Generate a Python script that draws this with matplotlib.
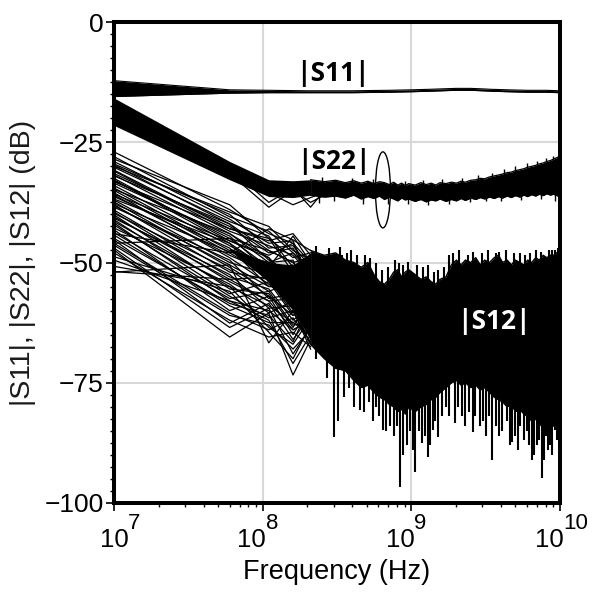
import numpy as np
import matplotlib
matplotlib.use("Agg")
import matplotlib.pyplot as plt
from matplotlib.patches import Ellipse
from matplotlib.ticker import MultipleLocator, LogLocator, NullFormatter, FixedLocator
import matplotlib.transforms as mtransforms

# ---------------- data ----------------
# |S11| band (GHz, dB)
s11_freq_ghz = [0.01, 0.06, 0.11, 0.2, 0.4, 0.7, 1.0, 1.3, 1.6, 2.0, 2.5, 3.0, 3.5, 4.5, 6.0, 8.0, 10.0]
s11_upper = [-12.2, -14.1, -14.2, -14.3, -14.3, -14.2, -14.1, -14.0, -13.9, -13.8, -13.8, -13.9, -14.0, -14.1, -14.2, -14.2, -14.3]
s11_lower = [-15.5, -14.8, -14.7, -14.7, -14.7, -14.6, -14.5, -14.4, -14.3, -14.2, -14.2, -14.3, -14.4, -14.5, -14.6, -14.6, -14.7]

# sweep points at low frequency (GHz)
low_freq_ghz = [0.01, 0.06, 0.11, 0.16, 0.21]

# dense part of the sweep (GHz)
band_freq_ghz = [0.21, 0.26, 0.31, 0.36, 0.41, 0.46, 0.51, 0.56, 0.61, 0.66, 0.71, 0.76, 0.81, 0.86, 0.91, 0.96,
                 1.06, 1.16, 1.26, 1.36, 1.46, 1.56, 1.71, 1.86, 2.01, 2.16, 2.31, 2.51, 2.71, 2.91, 3.11, 3.36,
                 3.61, 3.86, 4.11, 4.41, 4.71, 5.01, 5.36, 5.71, 6.06, 6.46, 6.86, 7.26, 7.71, 8.16, 8.61, 9.06,
                 9.51, 10.0]

# |S22| band
s22_low_upper = [-15.8, -29.0, -32.8, -33.0, -32.8]
s22_low_lower = [-21.5, -32.8, -36.3, -36.5, -36.0]
s22_upper = [-32.8, -33.2, -32.9, -33.4, -33.0, -33.5, -33.1, -33.6, -33.2, -33.4, -33.8, -33.3, -33.9, -33.5, -34.0, -33.6,
             -33.9, -33.4, -33.8, -33.5, -33.9, -33.4, -33.6, -33.3, -33.5, -33.1, -33.3, -32.9, -32.8, -32.5, -32.6, -32.2,
             -32.0, -31.8, -31.6, -31.3, -31.2, -30.9, -30.7, -30.5, -30.2, -30.0, -29.8, -29.5, -29.3, -29.0, -28.8, -28.5,
             -28.2, -27.9]
s22_lower = [-36.0, -36.4, -36.2, -36.6, -36.0, -36.8, -36.3, -36.7, -36.2, -36.9, -36.4, -36.8, -37.2, -36.6, -37.0, -36.8,
             -37.3, -36.9, -37.4, -37.0, -37.2, -36.8, -37.3, -36.9, -37.2, -36.7, -37.1, -36.6, -36.9, -36.5, -36.8, -36.4,
             -36.7, -36.3, -36.6, -36.2, -36.5, -36.1, -36.4, -36.0, -36.3, -35.9, -36.2, -35.8, -36.1, -35.7, -36.0, -35.8,
             -36.1, -36.3]
s22_spike_up_ghz = [0.25, 0.4, 0.55, 0.9, 1.2, 1.6, 2.2, 2.8, 3.5, 4.2, 5.0, 6.0, 7.0, 8.0, 9.0]
s22_spike_up_db = [-32.2, -32.5, -32.7, -33.0, -32.8, -32.7, -32.4, -31.8, -31.3, -30.5, -30.0, -29.4, -28.8, -28.3, -27.8]
s22_spike_dn_ghz = [0.24, 0.3, 0.47, 0.7, 0.95, 1.3, 1.8, 2.5, 3.2, 4.0, 5.5, 7.5, 9.3]
s22_spike_dn_db = [-37.6, -37.3, -37.8, -37.9, -37.8, -38.0, -37.8, -37.5, -37.3, -37.2, -37.0, -36.9, -37.2]
# a few stray |S22| traces
s22_stray_freq_ghz = [0.01, 0.06, 0.11, 0.16, 0.21, 0.26, 0.31]
s22_strays = [
    [-16.5, -30.5, -37.5, -34.5, -38.5, -35.0, -35.5],
    [-17.5, -31.5, -38.5, -35.0, -37.5, -36.0, -34.5],
    [-18.5, -32.0, -35.5, -38.0, -36.5, -35.5, -35.0],
]

# |S12| individual traces at low_freq_ghz
s12_traces = [
    [-27.0, -39.0, -44.0, -46.0, -50.0],
    [-28.0, -40.5, -43.5, -48.0, -52.0],
    [-29.0, -41.0, -46.0, -45.5, -54.0],
    [-29.7, -42.0, -47.5, -50.0, -49.0],
    [-30.8, -43.0, -45.0, -52.0, -56.0],
    [-31.5, -42.5, -48.0, -47.0, -53.0],
    [-31.8, -44.0, -50.0, -49.5, -58.0],
    [-32.5, -45.5, -49.0, -54.0, -51.0],
    [-32.8, -46.0, -51.5, -50.5, -60.0],
    [-33.5, -44.5, -52.0, -56.0, -55.0],
    [-34.5, -47.5, -50.5, -53.0, -62.0],
    [-35.0, -48.0, -53.0, -51.0, -57.0],
    [-35.5, -49.0, -54.5, -58.0, -53.0],
    [-36.3, -47.0, -55.0, -55.5, -64.0],
    [-37.0, -50.0, -52.5, -59.0, -58.0],
    [-37.4, -51.0, -56.0, -54.0, -61.0],
    [-38.0, -52.0, -53.5, -60.5, -55.0],
    [-38.5, -49.5, -57.5, -56.5, -66.0],
    [-39.1, -53.0, -55.5, -62.0, -59.0],
    [-39.5, -54.0, -58.0, -57.5, -63.0],
    [-40.1, -55.5, -56.5, -63.5, -57.0],
    [-40.8, -52.5, -59.5, -59.0, -67.0],
    [-41.1, -56.5, -54.0, -61.0, -60.0],
    [-41.8, -58.0, -60.0, -64.0, -62.0],
    [-42.2, -57.0, -61.5, -60.0, -68.0],
    [-43.2, -60.0, -57.0, -65.0, -59.0],
    [-44.3, -59.0, -62.5, -62.5, -65.0],
    [-45.3, -62.6, -58.5, -66.0, -61.0],
    [-46.4, -61.0, -63.0, -68.0, -64.0],
    [-47.4, -65.5, -60.5, -73.4, -66.0],
    [-48.8, -56.0, -64.5, -70.0, -63.0],
    [-52.0, -50.5, -66.7, -60.0, -67.0],
    [-51.9, -53.5, -58.0, -64.0, -62.0],
    [-44.0, -48.0, -43.0, -45.3, -47.5],
    [-46.0, -45.0, -51.0, -44.5, -50.0],
    [-28.5, -38.0, -45.0, -49.0, -48.0],
    [-29.5, -40.0, -47.0, -46.5, -51.0],
    [-30.2, -41.5, -44.5, -51.0, -55.0],
    [-31.0, -43.5, -46.5, -48.5, -52.5],
    [-32.0, -42.0, -49.5, -52.5, -57.5],
    [-33.0, -45.0, -47.5, -50.0, -54.5],
    [-34.0, -46.5, -51.0, -55.0, -59.5],
    [-34.8, -44.0, -49.0, -57.0, -56.0],
    [-36.0, -48.5, -52.0, -52.0, -61.5],
    [-36.8, -46.0, -54.0, -58.5, -55.5],
    [-38.2, -50.5, -55.0, -53.5, -63.5],
    [-39.8, -51.5, -57.0, -61.0, -58.5],
    [-40.5, -53.5, -53.0, -56.0, -65.5],
    [-41.5, -55.0, -59.0, -62.5, -60.5],
    [-42.8, -54.5, -60.5, -58.0, -64.5],
    [-43.8, -57.5, -56.0, -63.0, -62.5],
    [-45.0, -58.5, -61.0, -66.5, -58.5],
    [-46.0, -60.5, -64.0, -61.5, -66.5],
    [-47.0, -63.5, -59.5, -69.0, -63.5],
    [-48.0, -62.0, -65.5, -64.5, -67.5],
    [-49.5, -58.0, -62.0, -71.0, -65.0],
    [-50.8, -55.0, -63.5, -67.0, -61.5],
    [-30.0, -39.5, -42.5, -47.5, -49.5],
    [-33.2, -43.0, -45.5, -44.0, -48.5],
    [-37.8, -47.8, -50.0, -48.0, -51.5],
    [-35.8, -45.5, -48.5, -46.0, -53.5],
]
# densest core of the |S12| traces (tapering into the band)
s12_core_freq_ghz = [0.06, 0.11, 0.16, 0.21]
s12_core_upper = [-47.0, -50.0, -50.5, -48.0]
s12_core_lower = [-47.5, -54.0, -60.0, -66.0]

# |S12| dense band envelope at band_freq_ghz
s12_upper = [-47.5, -48.5, -48.0, -49.5, -50.0, -51.0, -50.0, -52.5, -54.0, -54.5, -53.5, -52.0, -51.5, -53.0, -52.0, -51.5,
             -52.5, -53.5, -53.0, -54.0, -54.5, -53.5, -53.0, -50.5, -49.5, -50.5, -49.5, -50.0, -49.0, -50.5, -49.5, -50.0,
             -49.0, -48.5, -50.0, -49.5, -50.5, -49.5, -50.0, -50.5, -49.5, -50.0, -49.0, -49.5, -48.5, -49.0, -48.5, -48.5,
             -48.0, -47.5]
s12_lower = [-67.0, -70.0, -72.0, -72.5, -74.5, -76.0, -75.5, -77.0, -78.0, -78.5, -79.5, -80.0, -81.0, -80.5, -81.5, -80.0,
             -81.0, -80.0, -79.5, -78.5, -78.0, -77.0, -76.0, -75.0, -74.5, -75.5, -75.0, -76.0, -75.5, -76.5, -76.0, -77.0,
             -78.0, -78.5, -79.0, -80.0, -79.5, -81.0, -80.5, -81.5, -82.0, -83.0, -82.5, -84.0, -83.0, -84.5, -83.5, -84.0,
             -82.5, -81.0]
# |S12| dips below the band
s12_dip_freq_ghz = [0.30, 0.32, 0.45, 0.64, 0.72, 0.84, 0.93, 1.06, 1.18, 1.29, 1.39, 1.51, 1.96, 2.18, 2.58, 2.88,
                    3.51, 3.91, 4.77, 5.39, 6.48, 7.0, 7.55, 8.28, 9.2,
                    0.23, 0.27, 0.35, 0.38, 0.41, 0.48, 0.52, 0.55, 0.58, 0.61, 0.68, 0.76, 0.80, 0.88, 0.98, 1.02,
                    1.12, 1.23, 1.34, 1.45, 1.6, 1.7, 1.8, 2.05, 2.3, 2.45, 2.7, 3.05, 3.2, 3.35, 3.7, 4.1, 4.4, 4.6,
                    5.0, 5.2, 5.7, 6.0, 6.2, 6.7, 7.25, 7.8, 8.0, 8.6, 8.9, 9.5, 9.8]
s12_dip_db = [-86.3, -83.0, -80.7, -84.8, -84.0, -96.7, -88.0, -93.6, -87.5, -90.4, -84.8, -86.3, -83.4, -82.0, -85.2, -84.0,
              -91.0, -86.0, -87.3, -84.0, -91.0, -88.0, -94.8, -89.0, -84.8,
              -70.0, -74.0, -78.0, -76.0, -80.0, -81.0, -79.0, -83.0, -80.0, -82.0, -85.0, -86.0, -84.0, -90.0, -85.0, -89.0,
              -85.0, -86.0, -88.0, -83.0, -82.0, -80.0, -82.0, -80.0, -84.0, -81.0, -82.0, -83.0, -86.0, -82.0, -84.0, -85.0,
              -83.0, -88.0, -86.0, -89.0, -87.0, -85.0, -88.0, -90.0, -87.0, -91.0, -86.0, -88.0, -90.0, -87.0, -86.0]
# |S12| peaks above the band
s12_peak_freq_ghz = [0.30, 0.34, 0.39, 0.49, 1.9, 2.4, 3.9, 5.4, 9.2,
                     0.23, 0.28, 0.33, 0.37, 0.43, 0.53, 0.58, 0.63, 0.7, 0.78, 0.83, 0.88, 0.95, 1.1, 1.2, 1.3,
                     1.42, 1.5, 1.65, 1.78, 2.1, 2.6, 3.0, 3.3, 3.7, 4.3, 4.9, 5.8, 6.3, 6.9, 7.5, 8.4, 8.8, 9.7]
s12_peak_db = [-48.0, -48.4, -47.5, -48.5, -48.0, -48.5, -47.8, -48.0, -47.5,
               -46.5, -47.0, -46.8, -48.0, -48.5, -49.0, -50.0, -51.5, -51.0, -49.5, -50.0, -50.5, -49.8, -50.5, -51.0, -50.5,
               -52.0, -51.5, -51.0, -48.5, -47.5, -47.8, -48.0, -47.5, -48.0, -47.5, -48.0, -48.5, -48.0, -47.5, -47.8, -47.5,
               -47.5, -47.0]

labels = ["|S11|", "|S22|", "|S12|"]
label_freq_ghz = [0.297, 0.30, 3.6]
label_db = [-10.8, -29.1, -62.2]

ellipse_freq_ghz = 0.644
ellipse_db = -34.9

x_decades = [7, 8, 9, 10]
x_label_dx = [0, -11, -11, -11]   # pixel offset of the "10" (style)
y_ticks = [0, -25, -50, -75, -100]

# ---------------- drawing ----------------
GHZ = 1e9
FONT = "Liberation Sans"
fig = plt.figure(figsize=(5.92, 5.93), dpi=100)
ax = fig.add_axes([114 / 592, 1 - 503 / 593, (560 - 114) / 592, (503 - 22) / 593])
ax.set_xscale("log")
ax.set_xlim(1e7, 1e10)
ax.set_ylim(-100, 0)

lw_trace = 0.9
k = "black"

# S11
f = np.array(s11_freq_ghz) * GHZ
ax.fill_between(f, s11_lower, s11_upper, color=k, lw=0, zorder=3)
ax.plot(f, s11_upper, color=k, lw=0.8, zorder=3)
ax.plot(f, s11_lower, color=k, lw=0.8, zorder=3)

# S22
fl = np.array(low_freq_ghz) * GHZ
fb = np.array(band_freq_ghz) * GHZ
ax.fill_between(fl, s22_low_lower, s22_low_upper, color=k, lw=0, zorder=3)
ax.fill_between(fb, s22_lower, s22_upper, color=k, lw=0, zorder=3)
ax.plot(fb, s22_upper, color=k, lw=0.9, zorder=3)
ax.plot(fb, s22_lower, color=k, lw=0.9, zorder=3)
ax.vlines(np.array(s22_spike_up_ghz) * GHZ, -34.5, s22_spike_up_db, color=k, lw=1.0, zorder=3)
ax.vlines(np.array(s22_spike_dn_ghz) * GHZ, -35.0, s22_spike_dn_db, color=k, lw=1.0, zorder=3)
fs = np.array(s22_stray_freq_ghz) * GHZ
for tr in s22_strays:
    ax.plot(fs, tr, color=k, lw=lw_trace, zorder=3)

# S12
for tr in s12_traces:
    ax.plot(fl, tr, color=k, lw=lw_trace, zorder=3)
ax.fill_between(np.array(s12_core_freq_ghz) * GHZ, s12_core_lower, s12_core_upper, color=k, lw=0, zorder=3)
ax.fill_between(fb, s12_lower, s12_upper, color=k, lw=0, zorder=3)
ax.plot(fb, s12_upper, color=k, lw=1.0, zorder=3)
ax.plot(fb, s12_lower, color=k, lw=1.0, zorder=3)
ax.vlines(np.array(s12_dip_freq_ghz) * GHZ, -65, s12_dip_db, color=k, lw=1.5, zorder=3)
ax.vlines(np.array(s12_peak_freq_ghz) * GHZ, -56, s12_peak_db, color=k, lw=1.5, zorder=3)

# ellipse marker (axes fraction from data)
ex = (np.log10(ellipse_freq_ghz * GHZ) - 7) / 3
ey = (ellipse_db + 100) / 100
ax.add_patch(Ellipse((ex, ey), 15 / 446, 76 / 481, transform=ax.transAxes,
                     fill=False, ec=k, lw=1.0, zorder=4))

# labels
for txt, fx, dbv in zip(labels, label_freq_ghz, label_db):
    col = "white" if txt == "|S12|" else k
    ax.text(fx * GHZ, dbv, txt, color=col, fontsize=19, fontweight="bold",
            family=["Open Sans", "DejaVu Sans"], ha="center", va="center", zorder=5)

# grid
ax.grid(True, which="major", color="#d8d8d8", lw=1.5, zorder=0)
ax.set_axisbelow(True)

# spines
for s in ax.spines.values():
    s.set_linewidth(2.9)
    s.set_zorder(6)

# ticks
ax.xaxis.set_major_locator(FixedLocator([10.0 ** e for e in x_decades]))
ax.xaxis.set_minor_locator(LogLocator(base=10, subs=np.arange(2, 10)))
ax.xaxis.set_minor_formatter(NullFormatter())
ax.set_xticklabels([])
ax.yaxis.set_major_locator(FixedLocator(y_ticks))
ax.yaxis.set_minor_locator(MultipleLocator(2.5))
ax.set_yticks(y_ticks)
ax.set_yticklabels([str(v).replace("-", "\u2212") for v in y_ticks], fontsize=19, family=FONT)
ax.tick_params(which="major", direction="out", length=5.5, width=1.2, pad=2, color=k)
ax.tick_params(which="minor", direction="out", length=2.8, width=1.0, color=k)

trans = mtransforms.blended_transform_factory(ax.transData, ax.transAxes)
for e, dx in zip(x_decades, x_label_dx):
    ax.annotate("10", xy=(10.0 ** e, 0), xycoords=trans, xytext=(dx, -25),
                textcoords="offset pixels", ha="center", va="top", fontsize=18.5, family=FONT)
    ax.annotate(str(e), xy=(10.0 ** e, 0), xycoords=trans, xytext=(dx + 14, -10),
                textcoords="offset pixels", ha="left", va="top", fontsize=16, family=FONT)

ax.set_xlabel("Frequency (Hz)", fontsize=19.5, family=FONT, labelpad=33)
ax.set_ylabel("|S11|, |S22|, |S12| (dB)", fontsize=20.5, family=FONT, color="#1a1a1a", labelpad=6)

fig.savefig("out.png", dpi=100)
